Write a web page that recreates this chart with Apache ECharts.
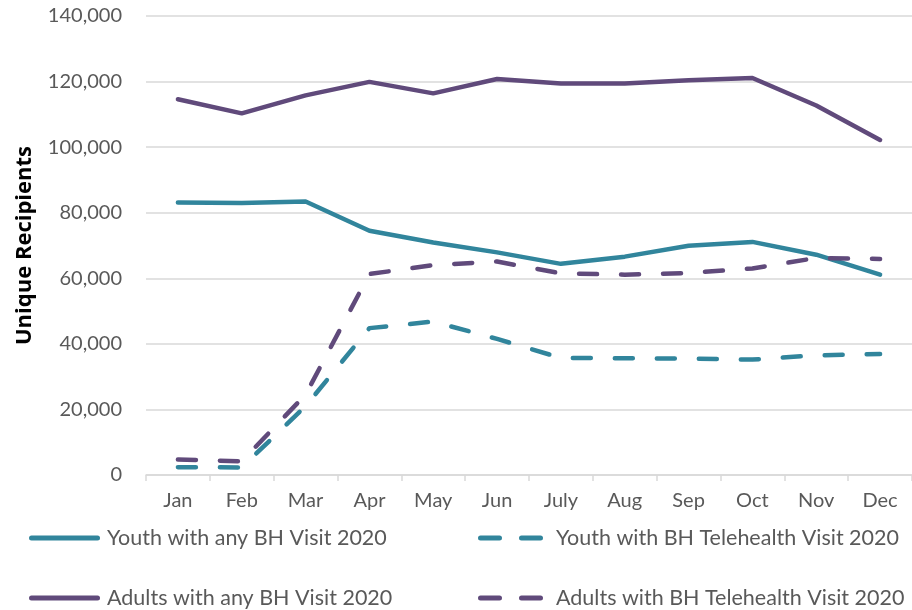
<!DOCTYPE html>
<html>
<head>
<meta charset="utf-8">
<script src="https://cdn.jsdelivr.net/npm/echarts@6/dist/echarts.min.js"></script>
<style>
html,body{margin:0;padding:0;background:#fff;}
#chart{width:912px;height:610px;}
</style>
</head>
<body>
<div id="chart"></div>
<script>
var categories = ['Jan','Feb','Mar','Apr','May','Jun','July','Aug','Sep','Oct','Nov','Dec'];
var youthAny   = [83100, 83000, 83400, 74500, 70900, 67900, 64400, 66600, 69900, 71100, 67200, 61100];
var youthTele  = [2400, 2300, 21000, 44800, 46800, 41500, 35700, 35600, 35500, 35200, 36500, 36900];
var adultsAny  = [114600, 110300, 115800, 119900, 116400, 120800, 119400, 119400, 120400, 121100, 112700, 102200];
var adultsTele = [4700, 4200, 24500, 61300, 64000, 65100, 61500, 61100, 61600, 63000, 66200, 65900];
var yTicks = [0, 20000, 40000, 60000, 80000, 100000, 120000, 140000];
var seriesNames = ['Youth with any BH Visit 2020','Youth with BH Telehealth Visit 2020','Adults with any BH Visit 2020','Adults with BH Telehealth Visit 2020'];

var TEAL = '#31859C', PURPLE = '#604A7B';
var FONT = 'Lato';
var chart = echarts.init(document.getElementById('chart'), null, {renderer:'canvas'});

function lineSeries(name, data, color, dashed){
  return {
    name: name, type: 'line', data: data, symbol: 'none', smooth: false,
    animation: false,
    lineStyle: {color: color, width: 4.5, type: dashed ? [18, 24] : 'solid', cap: 'round', join: 'round'},
    itemStyle: {color: color}
  };
}

var SOLID_ICON = 'path://M2.5,0 L68.5,0 A2.5,2.5 0 0 1 68.5,5 L2.5,5 A2.5,2.5 0 0 1 2.5,0 Z';
var DASH_ICON = 'path://M2.5,0 L21.5,0 A2.5,2.5 0 0 1 21.5,5 L2.5,5 A2.5,2.5 0 0 1 2.5,0 Z M43.5,0 L62.5,0 A2.5,2.5 0 0 1 62.5,5 L43.5,5 A2.5,2.5 0 0 1 43.5,0 Z';

function legendItem(name, left, top, dashed){
  return {
    left: left, top: top, orient: 'horizontal', padding: 0,
    data: [{name: name, icon: dashed ? DASH_ICON : SOLID_ICON}],
    itemWidth: dashed ? 65 : 71, itemHeight: 5,
    textStyle: {fontFamily: FONT, fontSize: 21.5, color: '#595959', lineHeight: 24,
                padding: [0, 0, 0, dashed ? 8 : 2]}
  };
}

chart.setOption({
  animation: false,
  backgroundColor: '#ffffff',
  textStyle: {fontFamily: FONT},
  grid: {left: 146, right: 0, top: 16, bottom: 135, containLabel: false},
  legend: [
    legendItem(seriesNames[0], 29, 526, false),
    legendItem(seriesNames[2], 29, 586, false),
    legendItem(seriesNames[1], 478, 526, true),
    legendItem(seriesNames[3], 478, 586, true)
  ],
  xAxis: {
    type: 'category', data: categories, boundaryGap: true,
    axisLine: {lineStyle: {color: '#d9d9d9', width: 1.5}},
    axisTick: {show: true, length: 6, lineStyle: {color: '#d9d9d9', width: 1.5}},
    axisLabel: {fontFamily: FONT, fontSize: 20, color: '#595959', margin: 16}
  },
  yAxis: {
    type: 'value', min: yTicks[0], max: yTicks[yTicks.length-1], interval: yTicks[1]-yTicks[0],
    name: 'Unique Recipients', nameLocation: 'middle', nameRotate: 90, nameGap: 110,
    nameTextStyle: {fontFamily: 'Open Sans', fontSize: 22, fontWeight: 'bold', color: '#000000'},
    axisLine: {show: false}, axisTick: {show: false},
    axisLabel: {fontFamily: FONT, fontSize: 20, color: '#595959', margin: 24},
    splitLine: {lineStyle: {color: '#d9d9d9', width: 1.5}}
  },
  series: [
    lineSeries(seriesNames[0], youthAny, TEAL, false),
    lineSeries(seriesNames[1], youthTele, TEAL, true),
    lineSeries(seriesNames[2], adultsAny, PURPLE, false),
    lineSeries(seriesNames[3], adultsTele, PURPLE, true)
  ]
});
</script>
</body>
</html>
